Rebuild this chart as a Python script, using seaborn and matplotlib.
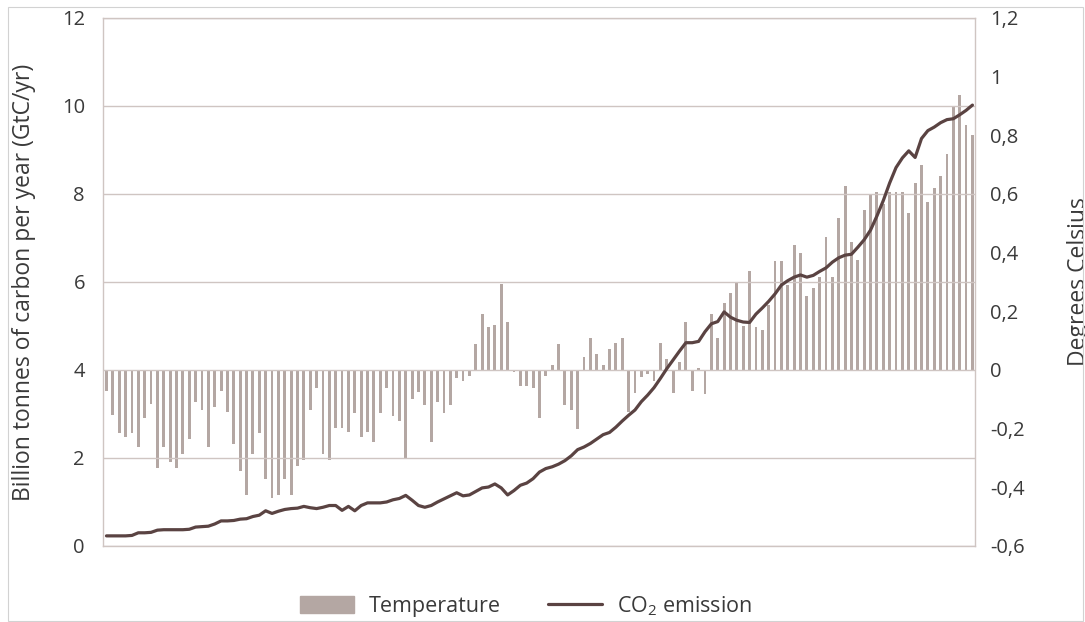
import seaborn as sns
import matplotlib.pyplot as plt
from matplotlib.patches import Patch, Rectangle
from matplotlib.lines import Line2D

# Data
years = list(range(1882, 2019))

temperature = [
    -0.072, -0.152, -0.216, -0.227, -0.216, -0.263, -0.162, -0.116, -0.335, -0.263,
    -0.315, -0.335, -0.288, -0.236, -0.108, -0.135, -0.263, -0.126, -0.071, -0.143,
    -0.254, -0.345, -0.426, -0.288, -0.216, -0.370, -0.435, -0.426, -0.372, -0.426,
    -0.326, -0.307, -0.136, -0.062, -0.288, -0.307, -0.198, -0.198, -0.210, -0.147,
    -0.227, -0.210, -0.246, -0.146, -0.063, -0.156, -0.173, -0.300, -0.099, -0.074,
    -0.119, -0.246, -0.110, -0.146, -0.119, -0.029, -0.036, -0.021, 0.090, 0.190,
    0.146, 0.155, 0.293, 0.164, -0.006, -0.056, -0.056, -0.063, -0.164, -0.021,
    0.017, 0.090, -0.120, -0.138, -0.201, 0.044, 0.110, 0.054, 0.017, 0.072,
    0.092, 0.110, -0.143, -0.080, -0.023, -0.014, -0.036, 0.092, 0.036, -0.078,
    0.027, 0.164, -0.071, 0.006, -0.083, 0.190, 0.108, 0.228, 0.264, 0.300,
    0.150, 0.336, 0.145, 0.135, 0.220, 0.372, 0.372, 0.290, 0.426, 0.398,
    0.252, 0.281, 0.318, 0.455, 0.317, 0.517, 0.626, 0.435, 0.375, 0.545,
    0.599, 0.608, 0.565, 0.608, 0.608, 0.608, 0.536, 0.636, 0.699, 0.572,
    0.619, 0.662, 0.735, 0.898, 0.938, 0.835, 0.801,
]

co2_emission = [
    0.23, 0.23, 0.23, 0.23, 0.24, 0.30, 0.30, 0.31, 0.36, 0.37,
    0.37, 0.37, 0.37, 0.38, 0.43, 0.44, 0.45, 0.50, 0.57, 0.57,
    0.58, 0.61, 0.62, 0.67, 0.70, 0.80, 0.74, 0.79, 0.83, 0.85,
    0.86, 0.90, 0.87, 0.85, 0.88, 0.92, 0.92, 0.81, 0.90, 0.80,
    0.92, 0.98, 0.98, 0.98, 1.00, 1.05, 1.08, 1.15, 1.04, 0.92,
    0.88, 0.92, 1.00, 1.07, 1.14, 1.21, 1.14, 1.16, 1.24, 1.32,
    1.34, 1.41, 1.32, 1.16, 1.26, 1.38, 1.43, 1.53, 1.68, 1.76,
    1.80, 1.86, 1.94, 2.05, 2.19, 2.25, 2.33, 2.43, 2.53, 2.58,
    2.70, 2.84, 2.97, 3.09, 3.28, 3.43, 3.60, 3.81, 4.03, 4.23,
    4.43, 4.62, 4.62, 4.65, 4.87, 5.05, 5.10, 5.32, 5.20, 5.13,
    5.09, 5.08, 5.27, 5.41, 5.56, 5.73, 5.93, 6.03, 6.11, 6.16,
    6.11, 6.15, 6.24, 6.32, 6.45, 6.55, 6.61, 6.63, 6.79, 6.96,
    7.18, 7.50, 7.85, 8.25, 8.60, 8.82, 8.98, 8.83, 9.26, 9.44,
    9.52, 9.62, 9.69, 9.71, 9.80, 9.90, 10.02,
]

left_ticks = [0, 2, 4, 6, 8, 10, 12]
right_ticks = [-0.6, -0.4, -0.2, 0, 0.2, 0.4, 0.6, 0.8, 1.0, 1.2]
right_labels = ["-0,6", "-0,4", "-0,2", "0", "0,2", "0,4", "0,6", "0,8", "1", "1,2"]

# Style
sns.set_style("white")
plt.rcParams["font.family"] = ["Open Sans", "DejaVu Sans"]
plt.rcParams["mathtext.default"] = "regular"

bar_color = "#b4a7a3"
line_color = "#5a4342"
frame_color = "#cfc5c2"
text_color = "#3a3a3a"

fig = plt.figure(figsize=(10.85, 6.22), dpi=100)
ax = fig.add_axes([0.0949, 0.1222, 0.8037, 0.8489])
ax2 = ax.twinx()

# Temperature bars (right axis)
sns.barplot(x=years, y=temperature, ax=ax, native_scale=True, color=bar_color,
            saturation=1, width=0.45, linewidth=0)
ax.set_ylim(-0.6, 1.2)
ax.set_xlim(years[0] - 0.55, years[-1] + 0.4)

# CO2 line (left axis), drawn on top
sns.lineplot(x=years, y=co2_emission, ax=ax2, color=line_color, linewidth=2.3)
ax2.set_ylim(0, 12)

# Swap sides: CO2 on the left, temperature on the right
ax2.yaxis.tick_left()
ax2.yaxis.set_label_position("left")
ax.yaxis.tick_right()
ax.yaxis.set_label_position("right")

ax2.set_yticks(left_ticks)
ax.set_yticks(right_ticks)
ax.set_yticklabels(right_labels)
ax.set_xticks([])
ax2.set_xticks([])

ax2.tick_params(axis="y", length=0, pad=13, labelsize=14.5, labelcolor=text_color)
ax.tick_params(axis="y", length=0, pad=11, labelsize=14.5, labelcolor=text_color)

ax2.set_ylabel("Billion tonnes of carbon per year (GtC/yr)", fontsize=16.5,
               color=text_color)
ax2.yaxis.set_label_coords(-0.077, 0.5)
ax.set_ylabel("Degrees Celsius", fontsize=16.5, color=text_color)
ax.yaxis.set_label_coords(1.106, 0.5)
ax.set_xlabel("")
ax2.set_xlabel("")

ax2.grid(axis="y", color=frame_color, linewidth=1)
ax.grid(False)
for s in ax.spines.values():
    s.set_visible(False)
for s in ax2.spines.values():
    s.set_visible(True)
    s.set_color(frame_color)
    s.set_linewidth(1)

# Legend
handles = [
    Patch(color=bar_color, label="Temperature"),
    Line2D([], [], color=line_color, linewidth=2.3, label="CO$_2$ emission"),
]
fig.legend(handles=handles, loc="center", bbox_to_anchor=(0.485, 0.026), ncol=2,
           frameon=False, fontsize=15.5, handlelength=2.5, handleheight=0.85,
           handletextpad=0.7, columnspacing=2.2, labelcolor=text_color)

# Thin outer frame
fig.patches.append(Rectangle((0.0074, 0.0016), 0.991, 0.987, transform=fig.transFigure,
                             fill=False, edgecolor="#d2d2d2", linewidth=0.8))

fig.savefig("out.png", dpi=100)
